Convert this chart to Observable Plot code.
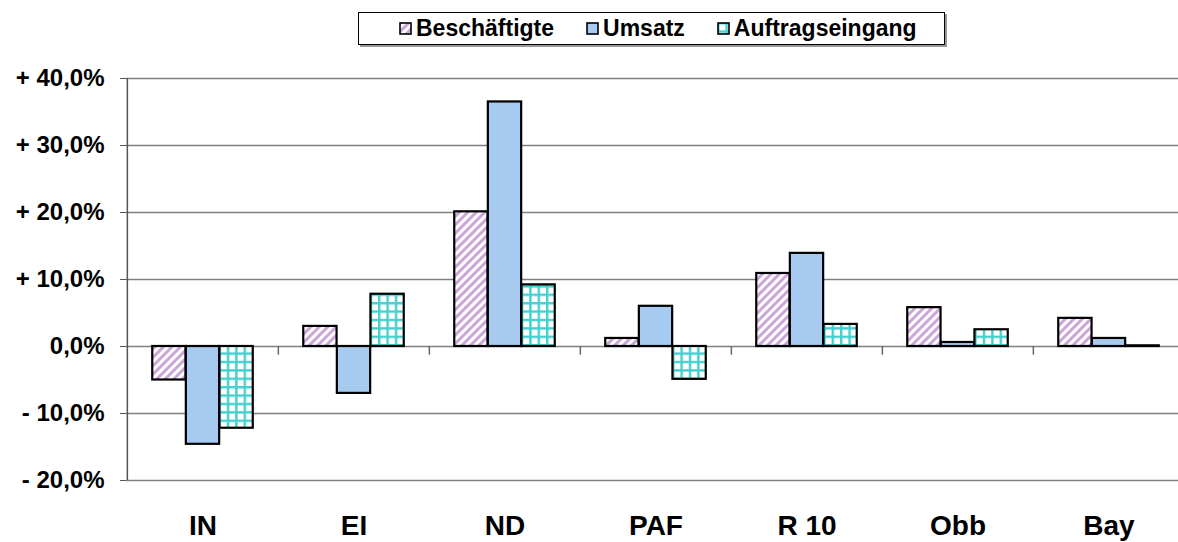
<!DOCTYPE html>
<html>
<head>
<meta charset="utf-8">
<script src="https://cdn.jsdelivr.net/npm/d3@7"></script>
<script src="https://cdn.jsdelivr.net/npm/@observablehq/plot@0.6"></script>
<style>
  html, body { margin: 0; padding: 0; background: #fff; }
  body { width: 1178px; height: 542px; overflow: hidden; font-family: "Liberation Sans", Arial, sans-serif; }
  #legend {
    position: absolute; left: 358px; top: 12px; width: 587px; height: 33px; box-sizing: border-box;
    border: 1px solid #000; box-shadow: 2px 2px 0 #999; background: #fff; padding-left: 40px;
    display: flex; align-items: center; font-weight: bold; font-size: 23px; color: #000;
  }
  #legend .item { display: flex; align-items: center; margin-right: 32px; }
  #chart { position: absolute; left: 0; top: 50px; }
</style>
</head>
<body>
<svg width="0" height="0" style="position:absolute">
  <defs>
    <pattern id="stripes" patternUnits="userSpaceOnUse" width="6" height="6" patternTransform="rotate(45)">
      <rect width="6" height="6" fill="#ffffff"></rect>
      <rect x="0" width="3" height="6" fill="#cba6d8"></rect>
    </pattern>
    <pattern id="grid" patternUnits="userSpaceOnUse" width="8.4" height="8.4">
      <rect width="8.4" height="8.4" fill="#ffffff"></rect>
      <rect x="0" width="2.4" height="8.4" fill="#45cfcf"></rect>
      <rect y="0" width="8.4" height="2.4" fill="#45cfcf"></rect>
    </pattern>
  </defs>
</svg>
<div id="legend"></div>
<div id="chart"></div>
<script>
const regions = ["IN", "EI", "ND", "PAF", "R 10", "Obb", "Bay"];
const seriesNames = ["Beschäftigte", "Umsatz", "Auftragseingang"];
const beschaeftigte = [-5.0, 3.0, 20.1, 1.2, 10.9, 5.8, 4.2];
const umsatz = [-14.6, -7.0, 36.5, 6.0, 13.9, 0.6, 1.2];
const auftragseingang = [-12.2, 7.8, 9.2, -4.9, 3.3, 2.5, 0.1];
const yTicks = [-20, -10, 0, 10, 20, 30, 40];

const seriesValues = [beschaeftigte, umsatz, auftragseingang];
const fills = ["url(#stripes)", "#a6caf0", "url(#grid)"];

const data = seriesNames.map((s, i) => regions.map((r, j) => ({region: r, series: s, value: seriesValues[i][j]})));

// legend
const legend = document.getElementById("legend");
seriesNames.forEach((s, i) => {
  const it = document.createElement("div");
  it.className = "item";
  it.innerHTML = `<svg width="13" height="13" style="margin-right:4px"><rect x="1" y="1" width="11" height="11" fill="${fills[i]}" stroke="#000" stroke-width="1.6"></rect></svg><span>${s}</span>`;
  legend.appendChild(it);
});

const width = 1178, height = 492;
const marginLeft = 126, marginRight = -7;
const band = (width - marginLeft - marginRight) / regions.length;
const barW = 33.6;
const outer = (band - 3 * barW) / 2;

const fmt = d => d === 0 ? "0,0%" : (d > 0 ? "+ " : "- ") + Math.abs(d).toFixed(1).replace(".", ",") + "%";

const marks = [
  Plot.ruleY(yTicks, {y: d => d, stroke: "#808080", strokeWidth: 1.5}),
  ...data.map((rows, i) => Plot.barY(rows, {
    x: "region", y: "value", fill: fills[i], stroke: "#000", strokeWidth: 2.2,
    insetLeft: outer + i * barW, insetRight: band - outer - (i + 1) * barW
  })),
  Plot.ruleX(regions.slice(1), {x: d => d, dx: -band / 2, y1: 0, y2: -1.3, stroke: "#666", strokeWidth: 1.5}),
  Plot.ruleX(regions.slice(0, 1), {x: d => d, dx: -band / 2, y1: -20, y2: 40, stroke: "#555", strokeWidth: 1.5}),
  Plot.axisY({ticks: yTicks, tickFormat: fmt, tickSize: 6, tickPadding: 16, fontSize: 24, fontWeight: "bold", stroke: "#555"}),
  Plot.axisX({tickSize: 0, tickPadding: 35, fontSize: 28, fontWeight: "bold"})
];

const plot = Plot.plot({
  width, height,
  marginLeft, marginRight, marginTop: 28, marginBottom: 62,
  style: {fontFamily: "'Liberation Sans', Arial, sans-serif", color: "#000", overflow: "visible"},
  x: {domain: regions, padding: 0, label: null},
  y: {domain: [-20, 40], label: null},
  marks
});
document.getElementById("chart").appendChild(plot);
</script>
</body>
</html>
